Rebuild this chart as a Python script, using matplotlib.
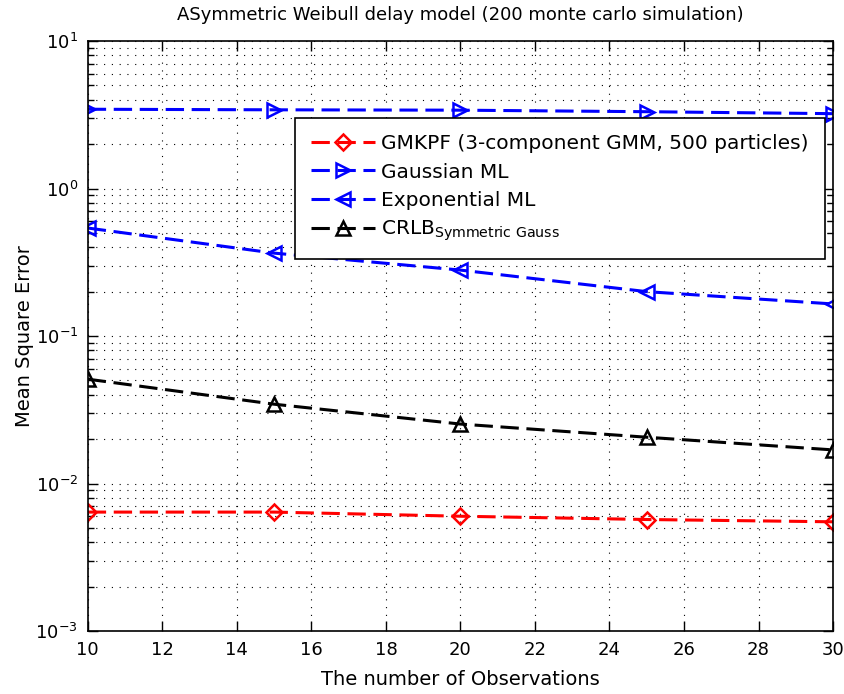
import matplotlib
matplotlib.use("Agg")
import matplotlib.pyplot as plt
from matplotlib.ticker import LogLocator, NullFormatter, FixedLocator

plt.rcParams['font.family'] = ['DejaVu Sans']
plt.rcParams['mathtext.fontset'] = 'dejavusans'

# Number of observations
obs = [10, 15, 20, 25, 30]

# Mean square error per estimator
gmkpf = [0.0064, 0.0064, 0.0060, 0.0057, 0.0055]
gauss_ml = [3.45, 3.42, 3.40, 3.32, 3.22]
expo_ml = [0.54, 0.365, 0.28, 0.20, 0.165]
crlb = [0.051, 0.0345, 0.0253, 0.0206, 0.0169]

labels = ['GMKPF (3-component GMM, 500 particles)', 'Gaussian ML',
          'Exponential ML', r'CRLB$_{\mathrm{Symmetric\ Gauss}}$']

fig = plt.figure(figsize=(8.44, 6.94), dpi=100)
ax = fig.add_axes([0.104, 0.0908, 0.883, 0.850])

style = dict(linestyle=(0, (6, 2.5)), linewidth=2.2,
             markerfacecolor='none', markeredgewidth=1.8)
ax.plot(obs, gmkpf, color='#ff0000', marker='D', markersize=8, label=labels[0], **style)
ax.plot(obs, gauss_ml, color='#0000ff', marker='>', markersize=10, label=labels[1], **style)
ax.plot(obs, expo_ml, color='#0000ff', marker='<', markersize=10, label=labels[2], **style)
ax.plot(obs, crlb, color='black', marker='^', markersize=10, label=labels[3], **style)

ax.set_yscale('log')
ax.set_xlim(10, 30)
ax.set_ylim(1e-3, 1e1)
ax.xaxis.set_major_locator(FixedLocator(list(range(10, 31, 2))))
ax.yaxis.set_major_locator(LogLocator(base=10, numticks=10))
ax.yaxis.set_minor_locator(LogLocator(base=10, subs=range(2, 10), numticks=10))
ax.yaxis.set_minor_formatter(NullFormatter())

dotted = (0, (1, 6))
ax.grid(True, which='major', linestyle=dotted, color='black', linewidth=0.8)
ax.grid(True, which='minor', axis='y', linestyle=dotted, color='black', linewidth=0.8)

ax.tick_params(which='both', direction='in', top=True, right=True, labelsize=13)
ax.tick_params(axis='x', which='major', pad=7)
ax.tick_params(axis='y', which='major', pad=7)
ax.tick_params(which='major', length=7, width=1)
ax.tick_params(which='minor', length=4, width=1)
for sp in ax.spines.values():
    sp.set_linewidth(1.2)

ax.set_title('ASymmetric Weibull delay model (200 monte carlo simulation)', fontsize=13, pad=15)
ax.set_xlabel('The number of Observations', fontsize=14, labelpad=8)
ax.set_ylabel('Mean Square Error', fontsize=14, labelpad=1)

leg = ax.legend(loc='upper right', bbox_to_anchor=(0.989, 0.869), fontsize=14.5,
                fancybox=False, edgecolor='black', framealpha=1,
                handlelength=3.2, borderpad=0.8, labelspacing=0.45, handletextpad=0.3,
                borderaxespad=0)
leg.get_frame().set_linewidth(1.2)

fig.savefig('out.png', dpi=100)
